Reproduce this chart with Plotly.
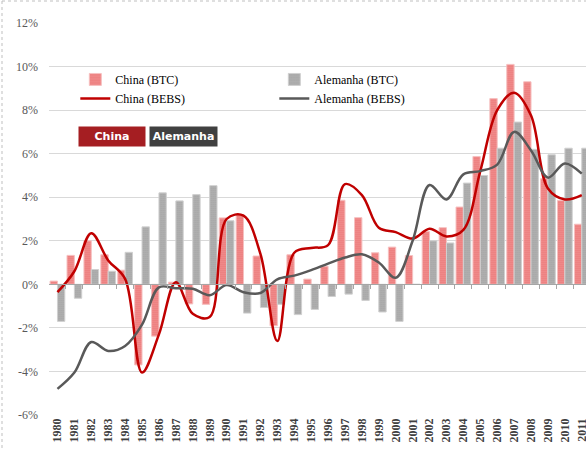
import plotly.graph_objects as go

years = list(range(1980, 2012))
year_labels = [str(y) for y in years]

china_btc = [0.15, 1.33, 2.0, 1.36, 0.65, -3.7, -2.38, 0.1, -0.9, -0.92,
             3.05, 3.2, 1.3, -1.9, 1.36, 0.24, 0.83, 3.86, 3.06, 1.45,
             1.71, 1.32, 2.42, 2.6, 3.55, 5.87, 8.53, 10.1, 9.3, 4.85,
             3.85, 2.76]
alemanha_btc = [-1.7, -0.64, 0.68, 0.6, 1.47, 2.64, 4.2, 3.83, 4.12, 4.53,
                2.92, -1.32, -1.06, -0.92, -1.39, -1.15, -0.56, -0.45, -0.74, -1.27,
                -1.7, 0.0, 2.0, 1.9, 4.65, 5.0, 6.25, 7.45, 6.2, 5.95,
                6.25, 6.25]
china_bebs = [-0.36, 0.6, 2.35, 1.1, 0.25, -4.05, -2.3, 0.1, -1.35, -1.5,
              3.0, 3.15, 1.4, -2.6, 1.45, 1.67, 1.8, 4.6, 4.1, 2.6,
              2.4, 2.1, 2.55, 2.2, 2.5, 5.2, 8.0, 8.8, 7.75, 4.4,
              3.9, 4.1]
alemanha_bebs = [-4.8, -4.05, -2.65, -3.06, -2.83, -1.85, -0.14, -0.18, -0.2, -0.5,
                 -0.03, -0.36, -0.4, 0.23, 0.4, 0.65, 0.95, 1.23, 1.38, 1.0,
                 0.3, 2.0, 4.56, 3.9, 5.05, 5.2, 5.5, 7.0, 6.15, 4.9,
                 5.55, 5.08]

y_ticks = [-6, -4, -2, 0, 2, 4, 6, 8, 10, 12]
y_tick_labels = ["-6%", "-4%", "-2%", "0%", "2%", "4%", "6%", "8%", "10%", "12%"]

series_names = ["China (BTC)", "Alemanha (BTC)", "China (BEBS)", "Alemanha (BEBS)"]
button_labels = ["China", "Alemanha"]

RED = "#C00000"
GRAY = "#595959"
SERIF = "Liberation Serif, Times New Roman, serif"

fig = go.Figure()
fig.add_trace(go.Bar(
    x=years, y=china_btc, name=series_names[0],
    marker=dict(color="#F3A5A5", line=dict(width=1, color="#F6C0C0"),
                pattern=dict(shape=".", fgcolor="#E02A2A", size=2, solidity=0.6)),
))
fig.add_trace(go.Bar(
    x=years, y=alemanha_btc, name=series_names[1],
    marker=dict(color="#BDBDBD", line=dict(width=1, color="#D0D0D0"),
                pattern=dict(shape=".", fgcolor="#7A7A7A", size=2, solidity=0.6)),
))
fig.add_trace(go.Scatter(
    x=years, y=china_bebs, name=series_names[2], mode="lines",
    line=dict(color=RED, width=2.5, shape="spline", smoothing=1.0),
))
fig.add_trace(go.Scatter(
    x=years, y=alemanha_bebs, name=series_names[3], mode="lines",
    line=dict(color=GRAY, width=2.5, shape="spline", smoothing=1.0),
))

# axis at zero with category-boundary tick marks
fig.add_trace(go.Scatter(x=[years[0]], y=[0], xaxis="x2", mode="markers",
                         marker=dict(opacity=0), showlegend=False, hoverinfo="skip"))

x_range = [years[0] - 0.5, years[-1] + 0.25]

fig.update_layout(
    width=586, height=450,
    margin=dict(l=49, r=0, t=23, b=35, autoexpand=False),
    paper_bgcolor="white", plot_bgcolor="white",
    barmode="group", bargap=0.13, bargroupgap=0,
    showlegend=True,
    legend=dict(
        orientation="h", x=0.049, xanchor="left", y=0.893, yanchor="top",
        bgcolor="rgba(0,0,0,0)", font=dict(family=SERIF, size=12, color="#000000"),
        entrywidth=154, entrywidthmode="pixels", traceorder="normal",
        tracegroupgap=0, itemwidth=30,
    ),
    xaxis=dict(
        range=x_range, tickmode="array", tickvals=years, ticktext=year_labels,
        tickangle=-90, tickfont=dict(family=SERIF, size=12, color="#404040", weight="bold"),
        showgrid=False, zeroline=False, showline=False, ticks="", automargin=False,
        ticklabeloverflow="allow",
    ),
    xaxis2=dict(
        overlaying="x", anchor="free", position=1/3, range=x_range,
        tickmode="array", tickvals=[y + 0.5 for y in years[:-1]],
        showticklabels=False, ticks="outside", ticklen=4, tickcolor="#A6A6A6",
        showline=True, linecolor="#A6A6A6", linewidth=1, showgrid=False, zeroline=False,
        automargin=False,
    ),
    yaxis=dict(
        range=[-6, 12], tickmode="array", tickvals=y_ticks, ticktext=y_tick_labels,
        tickfont=dict(family=SERIF, size=12, color="#595959"),
        showgrid=True, gridcolor="#D9D9D9", gridwidth=1, zeroline=False,
        ticks="", ticklabelstandoff=10, automargin=False,
    ),
)

# "China" / "Alemanha" label boxes
fig.add_annotation(text="<b>%s</b>" % button_labels[0], xref="paper", yref="paper",
                   x=(112 - 49) / 537, y=(415 - 136.4) / 392, xanchor="center", yanchor="middle",
                   showarrow=False, bgcolor="#A51E22", width=66, height=19, borderpad=0,
                   font=dict(family="DejaVu Sans", size=11, color="white"))
fig.add_annotation(text="<b>%s</b>" % button_labels[1], xref="paper", yref="paper",
                   x=(183.4 - 49) / 537, y=(415 - 136.4) / 392, xanchor="center", yanchor="middle",
                   showarrow=False, bgcolor="#404040", width=67, height=19, borderpad=0,
                   font=dict(family="DejaVu Sans", size=11, color="white"))

# dashed outer frame (top and left)
fig.add_shape(type="line", xref="paper", yref="paper",
              x0=(2 - 49) / 537, x1=1.0, y0=(415 - 1) / 392, y1=(415 - 1) / 392,
              line=dict(color="#BFBFBF", width=1, dash="dot"))
fig.add_shape(type="line", xref="paper", yref="paper",
              x0=(2 - 49) / 537, x1=(2 - 49) / 537, y0=(415 - 1) / 392, y1=(415 - 460) / 392,
              line=dict(color="#BFBFBF", width=1, dash="dot"))

fig.write_html("out.html", config={"displayModeBar": False},
               post_script="document.body.style.margin='0';document.body.style.overflow='hidden';")
